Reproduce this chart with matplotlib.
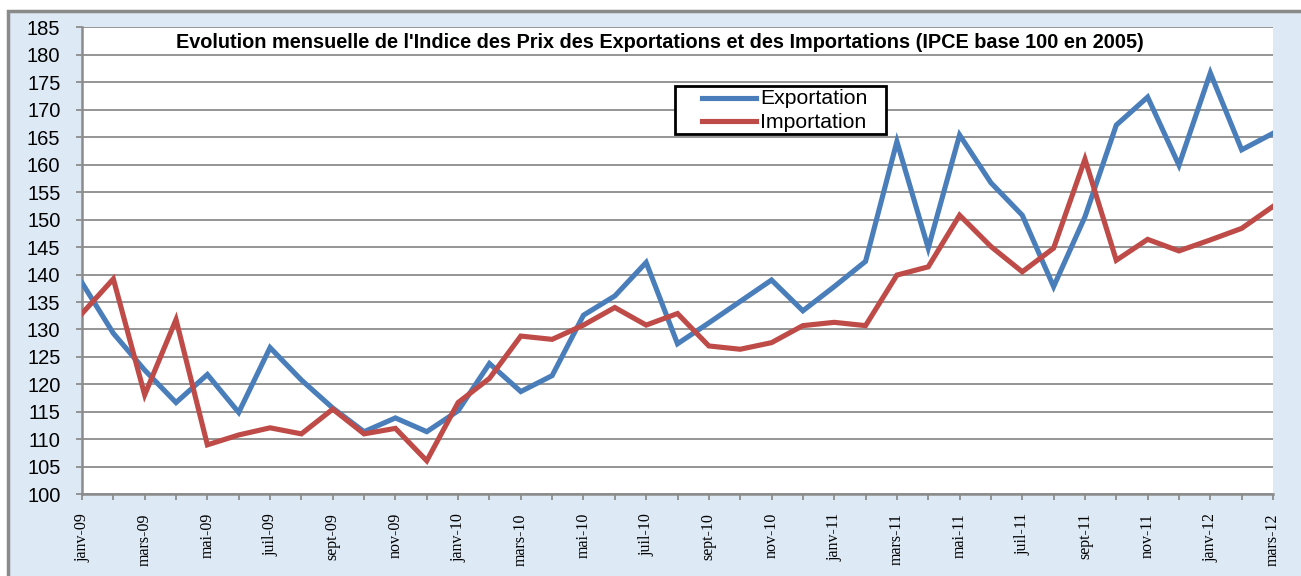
import matplotlib
matplotlib.use("Agg")
import matplotlib.pyplot as plt
from matplotlib.patches import Rectangle
from matplotlib.lines import Line2D

months = ['janv', 'févr', 'mars', 'avr', 'mai', 'juin', 'juil', 'août', 'sept', 'oct', 'nov', 'déc']
years = ['09', '10', '11', '12']
periods = [f"{m}-{y}" for y in years for m in months][:39]

exportation = [138.5, 129.3, 122.6, 116.7, 121.8, 114.9, 126.7, 120.8, 115.7, 111.4,
               113.9, 111.4, 115.2, 123.8, 118.7, 121.6, 132.6, 136.1, 142.2, 127.4,
               131.2, 135.1, 139.0, 133.4, 137.8, 142.4, 164.2, 144.8, 165.4, 156.7,
               150.8, 137.8, 150.5, 167.2, 172.3, 159.9, 176.7, 162.7, 165.7]
importation = [132.9, 139.2, 118.1, 131.8, 109.0, 110.8, 112.1, 111.0, 115.5, 111.0,
               112.0, 106.1, 116.7, 121.1, 128.8, 128.2, 130.8, 134.0, 130.8, 132.9,
               127.0, 126.4, 127.6, 130.7, 131.3, 130.7, 139.9, 141.4, 150.8, 145.1,
               140.5, 144.8, 161.0, 142.6, 146.4, 144.3, 146.3, 148.4, 152.4]
series_names = ['Exportation', 'Importation']
series_colors = ['#4A7EBB', '#BE4B48']

title = "Evolution mensuelle de l'Indice des Prix des Exportations et des Importations (IPCE base 100 en 2005)"
tick_labels = [p if i % 2 == 0 else '' for i, p in enumerate(periods)]

W, H = 1301, 576
fig = plt.figure(figsize=(W / 100, H / 100), dpi=100, facecolor='white')


def fx(px):
    return px / W


def fy(py):
    return 1 - py / H


# background frame
bg = Rectangle((fx(8), -0.1), 1.2, 1 - 11 / H + 0.1, transform=fig.transFigure,
               facecolor='#dde9f5', edgecolor='#8a8a8a', linewidth=2.5, zorder=-10)
fig.patches.append(bg)

ax = fig.add_axes([fx(82), fy(494.3), (1273 - 82) / W, (494.3 - 27.3) / H])
ax.set_facecolor('white')
x = list(range(len(periods)))
for vals, name, col in zip([exportation, importation], series_names, series_colors):
    ax.plot(x, vals, color=col, lw=3.7, solid_joinstyle='miter', label=name, zorder=3)

ax.set_xlim(0, len(periods) - 1)
ax.set_ylim(100, 185)
ax.set_yticks(range(100, 186, 5))
ax.yaxis.grid(True, color='#8c8c8c', lw=1.3)
ax.set_axisbelow(True)
ax.set_xticks(x)
ax.set_xticklabels(tick_labels, rotation=90, fontfamily='Liberation Serif', fontsize=11.5, va='top', ha='center')
ax.tick_params(axis='x', length=4.5, width=1.3, color='#8c8c8c', pad=9)
ax.tick_params(axis='y', length=4.5, width=1.3, color='#8c8c8c', pad=11, labelsize=14.5)
for lab in ax.get_yticklabels():
    lab.set_fontfamily('Liberation Sans')
for s in ['top', 'right']:
    ax.spines[s].set_visible(False)
for s in ['left', 'bottom']:
    ax.spines[s].set_color('#8c8c8c')
    ax.spines[s].set_linewidth(1.8)

fig.text(fx(660), fy(42), title, ha='center', va='center', fontsize=14.3, fontweight='bold',
         fontfamily='Liberation Sans')

# legend box
fig.patches.append(Rectangle((fx(675), fy(134)), (886 - 675) / W, (134 - 86) / H,
                             transform=fig.transFigure, facecolor='white', edgecolor='black',
                             linewidth=2, zorder=5))
for name, col, yy in zip(series_names, series_colors, [98, 121]):
    fig.lines.append(Line2D([fx(702), fx(756)], [fy(yy), fy(yy)], transform=fig.transFigure,
                            color=col, lw=3.7, zorder=6))
    fig.text(fx(760), fy(yy + 1), name, ha='left', va='center', fontsize=15.3,
             fontfamily='Liberation Sans', zorder=7)

fig.savefig('out.png', dpi=100, facecolor=fig.get_facecolor())
